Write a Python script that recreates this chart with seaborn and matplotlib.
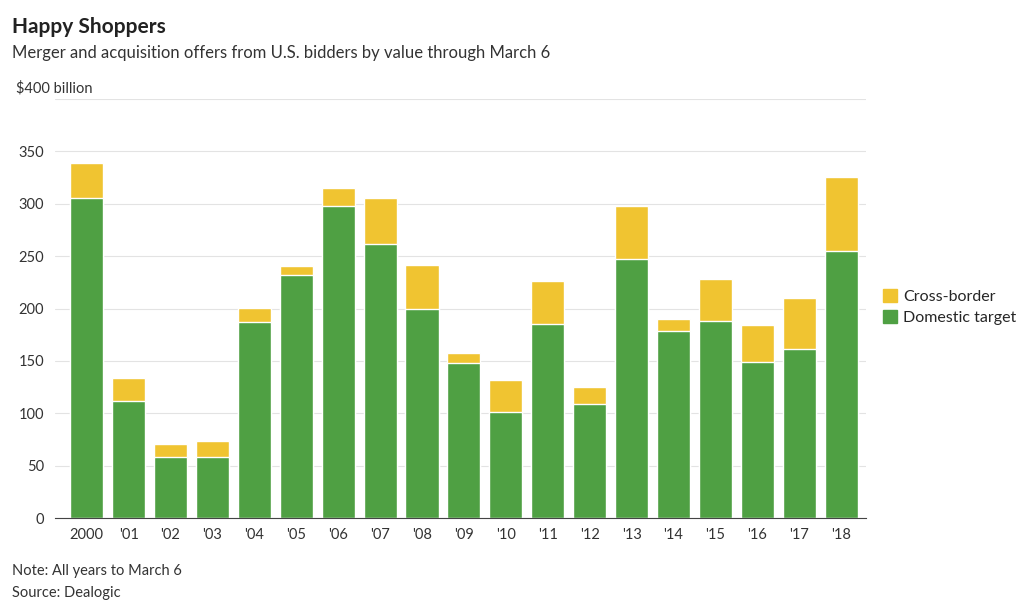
import matplotlib
matplotlib.use("Agg")
import matplotlib.pyplot as plt
import seaborn as sns
import pandas as pd
import numpy as np

years = ["2000","'01","'02","'03","'04","'05","'06","'07","'08","'09","'10","'11","'12","'13","'14","'15","'16","'17","'18"]
domestic = [306,112,58,58,187,232,298,262,200,148,101,185,109,247,179,188,149,161,255]
total = [339,134,71,74,201,241,315,306,242,158,132,226,125,298,190,228,184,210,326]
cross = [t - d for t, d in zip(total, domestic)]

sns.set_style("white")
plt.rcParams['font.family'] = ['Lato', 'DejaVu Sans']
green = "#4fa043"; yellow = "#f0c431"

fig = plt.figure(figsize=(10.24, 6.08), dpi=100)
ax = fig.add_axes([0.054, 0.148, 0.792, 0.689])
df = pd.DataFrame({"year": years, "total": total, "domestic": domestic})
sns.barplot(data=df, x="year", y="total", color=yellow, width=0.79, ax=ax, saturation=1, label="Cross-border")
sns.barplot(data=df, x="year", y="domestic", color=green, width=0.79, ax=ax, saturation=1, label="Domestic target")
ax.set_ylim(0, 400)
ax.set_xlim(-0.75, 18.6)
ax.set_yticks(range(0, 401, 50))
ax.set_yticklabels(["0","50","100","150","200","250","300","350",""])
ax.yaxis.grid(True, color="#e3e3e3", linewidth=0.8)
ax.set_axisbelow(True)
for s in ["top", "right", "left"]:
    ax.spines[s].set_visible(False)
ax.spines["bottom"].set_color("#444")
ax.tick_params(axis="y", length=0, labelsize=10.5, colors="#333", pad=8)
ax.tick_params(axis="x", length=4, labelsize=10.5, colors="#333", color="#444")
ax.set_xlabel(""); ax.set_ylabel("")
ax.legend().remove()

fig.text(0.016, 0.848, "$400 billion", fontsize=10.5, color="#333")
fig.text(0.012, 0.945, "Happy Shoppers", fontsize=15, fontweight="bold", color="#222")
fig.text(0.012, 0.905, "Merger and acquisition offers from U.S. bidders by value through March 6", fontsize=12, color="#333")
fig.text(0.012, 0.055, "Note: All years to March 6", fontsize=10.5, color="#333")
fig.text(0.012, 0.018, "Source: Dealogic", fontsize=10.5, color="#333")

from matplotlib.patches import Patch
fig.legend(handles=[Patch(color=yellow, label="Cross-border"), Patch(color=green, label="Domestic target")],
           loc="center left", bbox_to_anchor=(0.851, 0.495), frameon=False, fontsize=11.5,
           handlelength=0.9, handleheight=0.9, handletextpad=0.4, labelspacing=0.4, borderpad=0.2)
fig.savefig("out.png", dpi=100)
